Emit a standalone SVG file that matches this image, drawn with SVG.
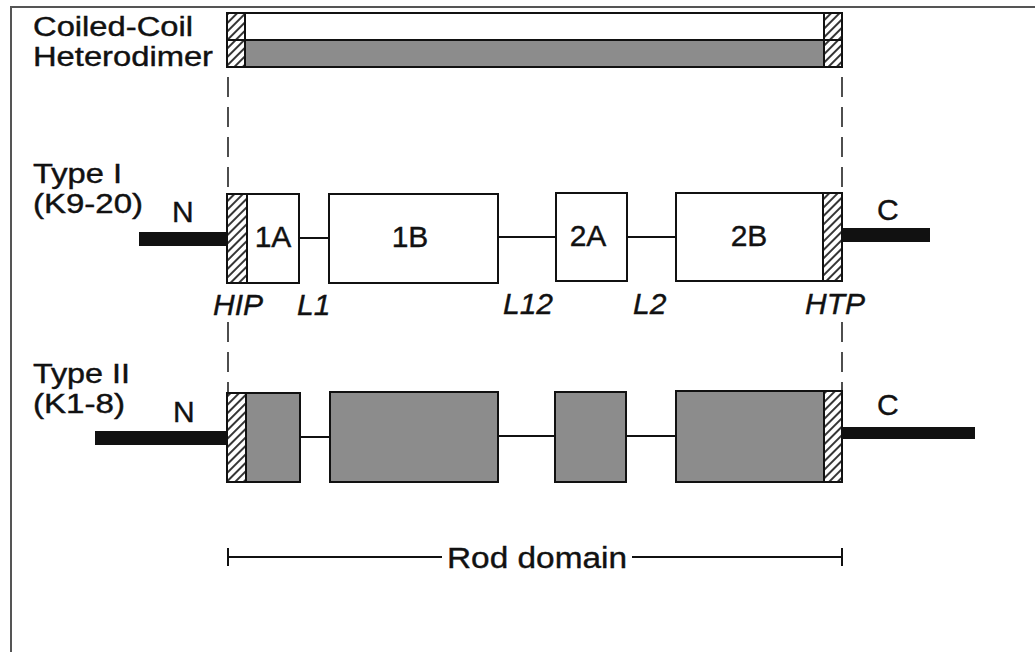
<svg xmlns="http://www.w3.org/2000/svg" width="1035" height="652" viewBox="0 0 1035 652">
<style>
.t{font-family:"Liberation Sans",Arial,sans-serif;font-size:30px;fill:#111;stroke:#111;stroke-width:0.4}
.s{font-size:27px}
.i{font-style:italic}
.box{stroke:#111;stroke-width:2}
.w{fill:#fff}
.g{fill:#8c8c8c}
.h{fill:url(#hatch);stroke:#111;stroke-width:2}
.bar{fill:#111}
.link{stroke:#111;stroke-width:2;fill:none}
.dash{stroke:#222;stroke-width:1.6;stroke-dasharray:20 10;fill:none}
</style>
<defs>
<pattern id="hatch" width="6" height="6" patternUnits="userSpaceOnUse" patternTransform="rotate(45)">
<rect width="6" height="6" fill="#fff"/>
<line x1="3" y1="0" x2="3" y2="6" stroke="#111" stroke-width="1.7"/>
</pattern>
</defs>
<rect width="1035" height="652" fill="#fff"/>
<path d="M11,652 V7 H1035" fill="none" stroke="#555" stroke-width="2"/>

<g id="coiled-coil">
<rect class="box w" x="227" y="13" width="615" height="27"/>
<rect class="box g" x="227" y="40" width="615" height="27"/>
<rect class="h" x="227" y="13" width="18" height="27"/>
<rect class="h" x="227" y="40" width="18" height="27"/>
<rect class="h" x="824" y="13" width="18" height="27"/>
<rect class="h" x="824" y="40" width="18" height="27"/>
<text class="t s" x="33" y="36" textLength="160" lengthAdjust="spacingAndGlyphs">Coiled-Coil</text>
<text class="t s" x="33" y="66" textLength="180" lengthAdjust="spacingAndGlyphs">Heterodimer</text>
</g>

<g id="connectors">
<line class="dash" x1="228" y1="77" x2="228" y2="194"/>
<line class="dash" x1="842" y1="77" x2="842" y2="193"/>
<line class="dash" x1="228" y1="322" x2="228" y2="393"/>
<line class="dash" x1="842" y1="322" x2="842" y2="391"/>
<line class="link" x1="299" y1="238" x2="329" y2="238"/>
<line class="link" x1="498" y1="237" x2="556" y2="237"/>
<line class="link" x1="627" y1="237" x2="676" y2="237"/>
<line class="link" x1="300" y1="437" x2="330" y2="437"/>
<line class="link" x1="498" y1="436" x2="555" y2="436"/>
<line class="link" x1="626" y1="436" x2="676" y2="436"/>
</g>

<g id="type1">
<text class="t s" x="33" y="183" textLength="89" lengthAdjust="spacingAndGlyphs">Type I</text>
<text class="t s" x="33" y="213" textLength="110" lengthAdjust="spacingAndGlyphs">(K9-20)</text>
<text class="t" x="172" y="222">N</text>
<rect class="bar" x="139" y="232" width="88" height="14"/>
<rect class="box w" x="227" y="194" width="72" height="89"/>
<rect class="h" x="227" y="194" width="20" height="89"/>
<text class="t" x="273" y="247" text-anchor="middle">1A</text>
<rect class="box w" x="329" y="194" width="169" height="89"/>
<text class="t" x="410" y="247" text-anchor="middle">1B</text>
<rect class="box w" x="556" y="193" width="71" height="88"/>
<text class="t" x="588" y="246" text-anchor="middle">2A</text>
<rect class="box w" x="676" y="193" width="166" height="88"/>
<rect class="h" x="823" y="193" width="19" height="88"/>
<text class="t" x="749" y="246" text-anchor="middle">2B</text>
<rect class="bar" x="842" y="228" width="88" height="14"/>
<text class="t" x="877" y="220">C</text>
<text class="t i" x="213" y="315">HIP</text>
<text class="t i" x="297" y="315">L1</text>
<text class="t i" x="503" y="314">L12</text>
<text class="t i" x="633" y="314">L2</text>
<text class="t i" x="805" y="314">HTP</text>
</g>

<g id="type2">
<text class="t s" x="33" y="383" textLength="97" lengthAdjust="spacingAndGlyphs">Type II</text>
<text class="t s" x="33" y="413" textLength="92" lengthAdjust="spacingAndGlyphs">(K1-8)</text>
<text class="t" x="173" y="422">N</text>
<rect class="bar" x="95" y="431" width="132" height="14"/>
<rect class="box g" x="227" y="393" width="73" height="89"/>
<rect class="h" x="227" y="393" width="19" height="89"/>
<rect class="box g" x="330" y="392" width="168" height="90"/>
<rect class="box g" x="555" y="392" width="71" height="90"/>
<rect class="box g" x="676" y="391" width="166" height="91"/>
<rect class="h" x="824" y="391" width="18" height="91"/>
<rect class="bar" x="842" y="427" width="133" height="12"/>
<text class="t" x="877" y="415">C</text>
</g>

<g id="rod-domain">
<line class="link" x1="228" y1="557" x2="442" y2="557"/>
<line class="link" x1="632" y1="557" x2="842" y2="557"/>
<line class="link" x1="228" y1="548" x2="228" y2="566"/>
<line class="link" x1="842" y1="548" x2="842" y2="566"/>
<text class="t" x="447" y="568" textLength="180" lengthAdjust="spacingAndGlyphs">Rod domain</text>
</g>
</svg>
